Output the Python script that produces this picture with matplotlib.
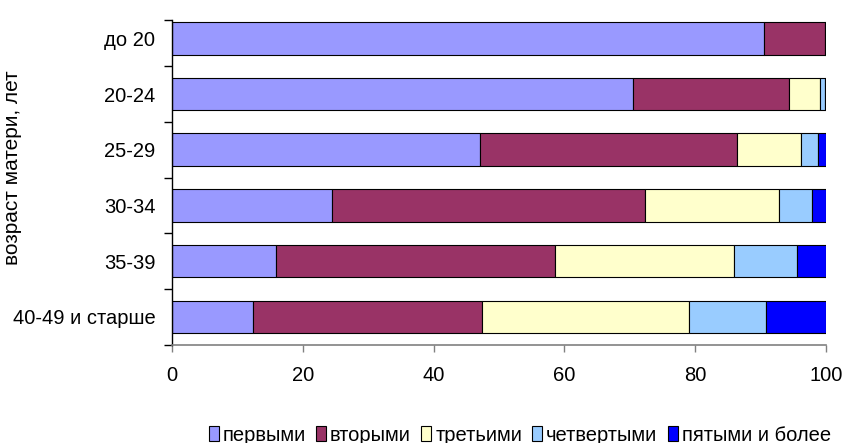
import matplotlib
matplotlib.use('Agg')
import matplotlib.pyplot as plt
import numpy as np

plt.rcParams['font.family'] = ['Liberation Sans', 'DejaVu Sans']
plt.rcParams['font.size'] = 14.5

ages = ['до 20', '20-24', '25-29', '30-34', '35-39', '40-49 и старше']
series = ['первыми', 'вторыми', 'третьими', 'четвертыми', 'пятыми и более']
colors = ['#9999FF', '#993366', '#FFFFCC', '#99CCFF', '#0000FF']

first = [90.5, 70.5, 47.1, 24.4, 15.9, 12.4]
second = [9.3, 23.8, 39.3, 48.0, 42.6, 35.0]
third = [0.2, 4.8, 9.8, 20.4, 27.4, 31.7]
fourth = [0.0, 0.7, 2.6, 5.1, 9.6, 11.8]
fifth = [0.0, 0.2, 1.2, 2.1, 4.5, 9.1]

data = [first, second, third, fourth, fifth]

fig = plt.figure(figsize=(8.45, 4.43), dpi=100)
ax = fig.add_axes([172 / 845, 1 - 344.7 / 443, 654 / 845, 324.7 / 443])

y = np.arange(len(ages))
left = np.zeros(len(ages))
for vals, name, c in zip(data, series, colors):
    ax.barh(y, vals, left=left, height=0.585, color=c, edgecolor='black',
            linewidth=0.8, label=name)
    left += np.array(vals)

top = -0.33
ax.set_ylim(len(ages) - 0.5, top)
ax.set_xlim(0, 100)
ax.set_yticks(y)
ax.set_yticklabels(ages)
ax.set_yticks(list(np.arange(len(ages)) + 0.5) + [top], minor=True)
ax.tick_params(axis='y', which='major', length=0, pad=12)
ax.tick_params(axis='y', which='minor', length=6, width=1, direction='out')
ax.set_xticks([0, 20, 40, 60, 80, 100])
ax.tick_params(axis='x', length=5, width=1, color='#808080', direction='out', pad=10)
for s in ['top', 'right']:
    ax.spines[s].set_visible(False)
ax.spines['bottom'].set_color('#808080')
ax.spines['bottom'].set_linewidth(1.2)
ax.spines['left'].set_linewidth(1)

# y label sits further left than the long tick label allows, so place it by hand
fig.text(13 / 845, 0.621, 'возраст матери, лет', rotation=90, ha='center',
         va='center', fontsize=15)

fig.legend(loc='center', bbox_to_anchor=(0.615, 0.018), ncol=5, frameon=False,
           handlelength=0.5, handleheight=0.7, handletextpad=0.2, columnspacing=0.5,
           borderaxespad=0)

fig.savefig('out.png', dpi=100)
